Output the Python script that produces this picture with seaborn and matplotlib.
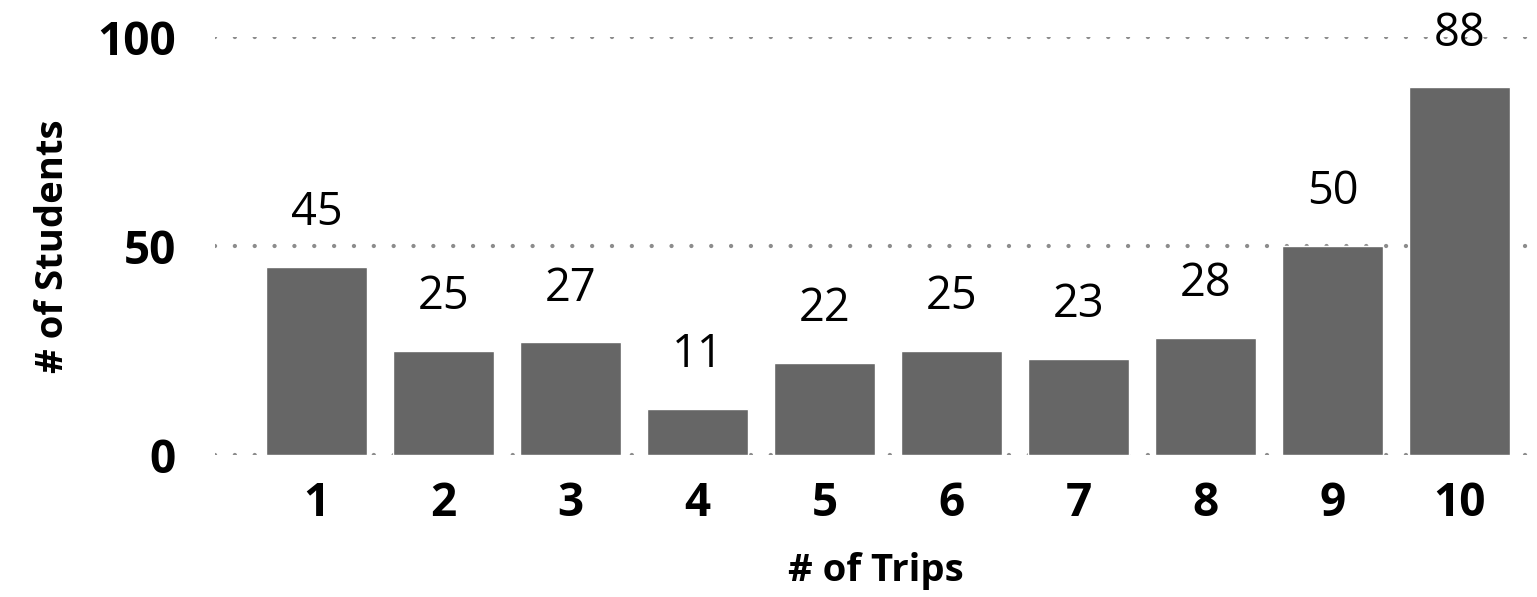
import matplotlib
matplotlib.use("Agg")
import matplotlib.pyplot as plt
import seaborn as sns
import pandas as pd

# data
trips = ["1", "2", "3", "4", "5", "6", "7", "8", "9", "10"]
students = [45, 25, 27, 11, 22, 25, 23, 28, 50, 88]
y_ticks = [0, 50, 100]

sns.set_theme(style="white")
plt.rcParams["font.family"] = ["Open Sans", "DejaVu Sans"]

df = pd.DataFrame({"trips": trips, "students": students})

fig = plt.figure(figsize=(15.37, 5.97), dpi=100)
ax = fig.add_axes([215 / 1537, (597 - 455) / 597, 1 - 215 / 1537, (455 - 37) / 597])

sns.barplot(data=df, x="trips", y="students", color="#666666", width=0.79,
            saturation=1, ax=ax, zorder=2)

for c in ax.containers:
    ax.bar_label(c, labels=[str(v) for v in students], padding=22,
                 fontsize=32.5, color="black", clip_on=False)

ax.set_ylim(0, 100)
ax.set_xlim(-0.80, 9.61)
ax.set_yticks(y_ticks)
ax.set_yticklabels([str(t) for t in y_ticks], fontweight="bold", fontsize=33, color="black")
ax.set_xticks(range(len(trips)))
ax.set_xticklabels(trips, fontweight="bold", fontsize=33, color="black")
ax.yaxis.grid(True, color="#8c8c8c", linestyle=(0, (0.01, 4.6)), linewidth=3.1,
              dash_capstyle="round", zorder=0)
ax.set_axisbelow(True)
sns.despine(ax=ax, left=True, bottom=True)

ax.tick_params(axis="y", length=0, pad=28)
ax.tick_params(axis="x", length=0, pad=18)

ax.set_xlabel("# of Trips", fontsize=27.5, fontweight="bold", color="black", labelpad=18)
ax.set_ylabel("# of Students", fontsize=27.5, fontweight="bold", color="black", labelpad=18)

fig.savefig("out.png", dpi=100)
